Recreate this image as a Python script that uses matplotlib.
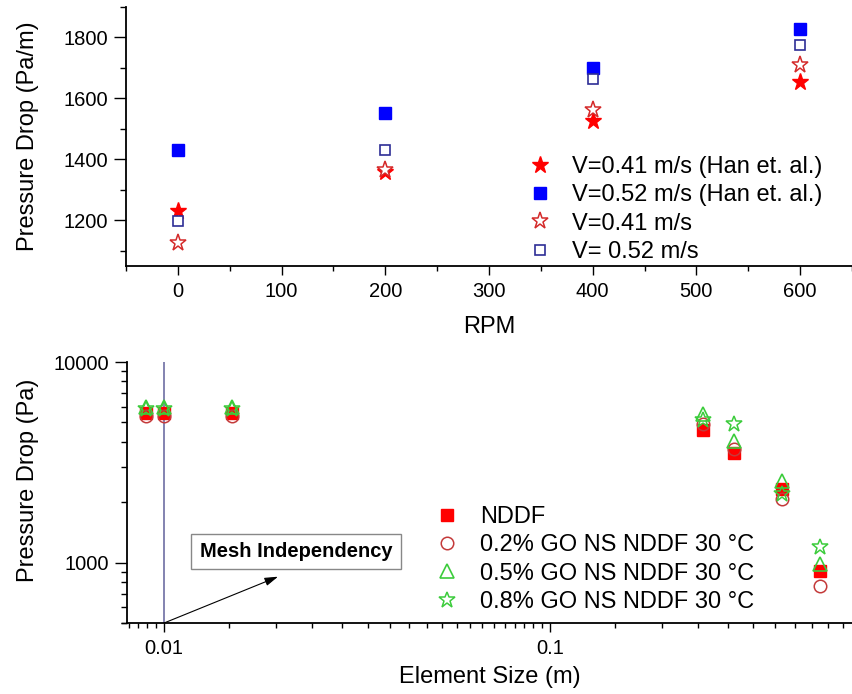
import numpy as np
import matplotlib
matplotlib.use("Agg")
import matplotlib.pyplot as plt
from matplotlib.ticker import FixedLocator, FixedFormatter, NullFormatter

plt.rcParams['font.family'] = ['Liberation Sans', 'DejaVu Sans']

# ---- Top panel: pressure drop per length vs rotation speed ----
rpm = [0, 200, 400, 600]
han_041 = [1230, 1360, 1525, 1655]
han_052 = [1432, 1553, 1700, 1828]
sim_041 = [1126, 1365, 1563, 1711]
sim_052 = [1199, 1431, 1665, 1776]
top_labels = ["V=0.41 m/s (Han et. al.)", "V=0.52 m/s (Han et. al.)",
              "V=0.41 m/s", "V= 0.52 m/s"]

# ---- Bottom panel: pressure drop vs element size ----
elem_size = [0.009, 0.01, 0.015, 0.25, 0.3, 0.4, 0.5]
nddf = [5600, 5600, 5600, 4600, 3500, 2320, 910]
go_02 = [5400, 5400, 5400, 4900, 3700, 2080, 765]
go_05 = [6000, 6000, 6000, 5500, 4050, 2540, 980]
go_08 = [5800, 5800, 5800, 5150, 4900, 2210, 1190]
bottom_labels = ["NDDF", "0.2% GO NS NDDF 30 \u00b0C",
                 "0.5% GO NS NDDF 30 \u00b0C", "0.8% GO NS NDDF 30 \u00b0C"]

W, H = 852, 694
fig = plt.figure(figsize=(W / 100, H / 100), dpi=100)


def px_axes(left, top, right, bottom):
    return fig.add_axes([left / W, 1 - bottom / H, (right - left) / W, (bottom - top) / H])


TICK_FS = 14.5
LABEL_FS = 17
LEG_FS = 17


def style_axes(ax):
    for s in ("top", "right"):
        ax.spines[s].set_visible(False)
    for s in ("left", "bottom"):
        ax.spines[s].set_linewidth(1.3)
    ax.tick_params(which="both", direction="out", width=1.0, labelsize=TICK_FS)
    ax.tick_params(axis="x", which="major", length=6.5, pad=5)
    ax.tick_params(axis="x", which="minor", length=3.5)
    ax.tick_params(axis="y", which="major", length=8.5, pad=4.5)
    ax.tick_params(axis="y", which="minor", length=4.5)


# Top axes
ax1 = px_axes(126, 7, 852, 266)
style_axes(ax1)
ax1.plot(rpm, han_041, linestyle="none", marker="*", ms=12.5, color="#ff0000",
         mec="#ff0000", label=top_labels[0])
ax1.plot(rpm, han_052, linestyle="none", marker="s", ms=8.5, color="#0000ff",
         mec="#0000ff", label=top_labels[1])
ax1.plot(rpm, sim_041, linestyle="none", marker="*", ms=12.5, mfc="white",
         mec="#d42a2a", mew=1.1, label=top_labels[2])
ax1.plot(rpm, sim_052, linestyle="none", marker="s", ms=7.5, mfc="white",
         mec="#2e2e96", mew=1.2, label=top_labels[3])
ax1.set_xlim(-50, 650)
ax1.set_ylim(1050, 1900)
ax1.xaxis.set_major_locator(FixedLocator([0, 100, 200, 300, 400, 500, 600]))
ax1.xaxis.set_minor_locator(FixedLocator([-50, 50, 150, 250, 350, 450, 550, 650]))
ax1.yaxis.set_major_locator(FixedLocator([1200, 1400, 1600, 1800]))
ax1.yaxis.set_minor_locator(FixedLocator([1100, 1300, 1500, 1700, 1900]))
ax1.set_xlabel("RPM", fontsize=LABEL_FS, labelpad=11)
ax1.set_ylabel("Pressure Drop (Pa/m)", fontsize=LABEL_FS)
ax1.yaxis.set_label_coords((39 - 126) / 726, 0.5)
ax1.legend(loc="upper left", bbox_to_anchor=(528 / W, 1 - 156 / H),
           bbox_transform=fig.transFigure, frameon=False, fontsize=LEG_FS,
           handlelength=1.0, handletextpad=0.86, labelspacing=0.27,
           borderpad=0, borderaxespad=0)

# Bottom axes
ax2 = px_axes(126.7, 362, 852, 623)
style_axes(ax2)
ax2.set_xscale("log")
ax2.set_yscale("log")
ax2.plot(elem_size, nddf, linestyle="none", marker="s", ms=8.5, color="#ff0000",
         mec="#ff0000", label=bottom_labels[0])
ax2.plot(elem_size, go_02, linestyle="none", marker="o", ms=9, mfc="none",
         mec="#c43a3a", mew=1.1, label=bottom_labels[1])
ax2.plot(elem_size, go_05, linestyle="none", marker="^", ms=10, mfc="none",
         mec="#3ccc3c", mew=1.2, label=bottom_labels[2])
ax2.plot(elem_size, go_08, linestyle="none", marker="*", ms=12, mfc="none",
         mec="#3ccc3c", mew=1.1, label=bottom_labels[3])
ax2.set_xlim(0.008, 0.607)
ax2.set_ylim(500, 10000)

# linear minor subdivisions inside each decade
minor_x = []
for d in (0.001, 0.01, 0.1):
    minor_x += [d + k * 9 * d / 19 for k in range(1, 19)]
ax2.xaxis.set_major_locator(FixedLocator([0.01, 0.1]))
ax2.xaxis.set_major_formatter(FixedFormatter(["0.01", "0.1"]))
ax2.xaxis.set_minor_locator(FixedLocator(minor_x))
ax2.xaxis.set_minor_formatter(NullFormatter())
minor_y = [m * d for d in (100, 1000) for m in range(2, 10)] + [500]
ax2.yaxis.set_major_locator(FixedLocator([1000, 10000]))
ax2.yaxis.set_major_formatter(FixedFormatter(["1000", "10000"]))
ax2.yaxis.set_minor_locator(FixedLocator(minor_y))
ax2.yaxis.set_minor_formatter(NullFormatter())

ax2.axvline(0.01, color="#7a7aaa", lw=1.3, zorder=1)
ax2.set_xlabel("Element Size (m)", fontsize=LABEL_FS, labelpad=6)
ax2.set_ylabel("Pressure Drop (Pa)", fontsize=LABEL_FS)
ax2.yaxis.set_label_coords((39 - 126.7) / 725.3, (623 - 480) / 261)

ax2.annotate("Mesh Independency", xy=(0.2334, 0.274), xycoords="axes fraction",
             ha="center", va="center", fontsize=14.5, fontweight="bold",
             bbox=dict(boxstyle="square,pad=0.42", fc="white", ec="#888888", lw=1.0))
ax2.annotate("", xy=(0.2086, 0.1774), xycoords="axes fraction",
             xytext=(0.01, 500), textcoords="data",
             arrowprops=dict(arrowstyle="-|>,head_length=0.8,head_width=0.25",
                             color="black", lw=0.8, shrinkA=0, shrinkB=0))

ax2.legend(loc="upper left", bbox_to_anchor=(435 / W, 1 - 506 / H),
           bbox_transform=fig.transFigure, frameon=False, fontsize=LEG_FS,
           handlelength=1.0, handletextpad=0.9, labelspacing=0.27,
           borderpad=0, borderaxespad=0)

fig.savefig("out.png", dpi=100)
